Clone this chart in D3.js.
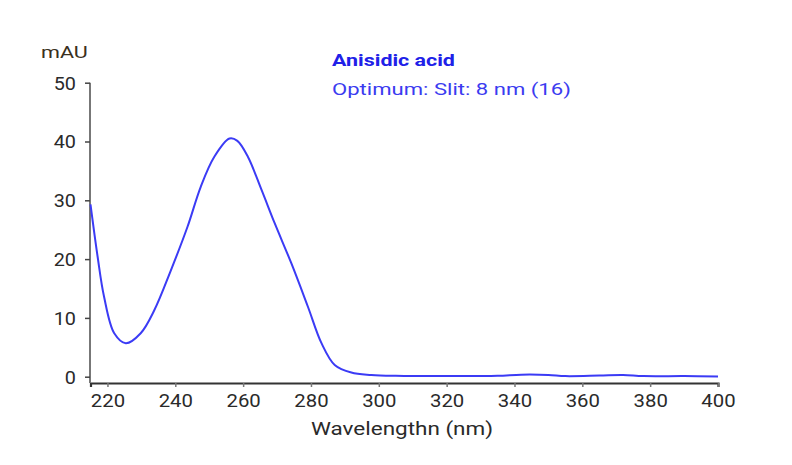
<!DOCTYPE html>
<html>
<head>
<meta charset="utf-8">
<script src="https://cdn.jsdelivr.net/npm/d3@7"></script>
<style>
  body { margin: 0; background: #fff; }
  text { font-family: Roboto, "Liberation Sans", sans-serif; }
</style>
</head>
<body>
<script>
// spectrum
var wavelength = [215, 217.1, 219, 222, 225.4, 229.8, 233.8, 238.7, 243.6, 247.5, 251.5, 256, 258.3, 261.4, 265.4, 269.3, 274.2, 279.1, 283.1, 287, 291.9, 297.8, 305, 320, 335, 342, 350, 355, 365, 372, 378, 390, 400];
var absorbance = [29.3, 20.4, 13.6, 7.4, 5.7, 7.4, 11.3, 18.1, 25.5, 32.3, 37.4, 40.5, 40.1, 37.4, 31.8, 26.1, 19.3, 11.9, 5.7, 2.0, 0.7, 0.3, 0.15, 0.1, 0.15, 0.35, 0.3, 0.1, 0.2, 0.3, 0.1, 0.1, 0.05];
var xTicks = [220, 240, 260, 280, 300, 320, 340, 360, 380, 400];
var yTicks = [0, 10, 20, 30, 40, 50];
var titleLines = ["Anisidic acid", "Optimum: Slit: 8 nm (16)"];

var W = 792, H = 465;
var data = wavelength.map(function (w, i) { return { w: w, a: absorbance[i] }; });

var x = d3.scaleLinear().domain([215, 400]).range([90.5, 718]);
var y = d3.scaleLinear().domain([0, 50]).range([376.7, 82.7]);
var axisY = 383;

var svg = d3.select("body").append("svg")
  .attr("width", W)
  .attr("height", H);

// the source picture is stretched sideways, so text gets a horizontal scale
function label(px, py, sx, str) {
  return svg.append("text")
    .attr("transform", "translate(" + px + "," + py + ") scale(" + sx + ",1)")
    .text(str);
}

// x axis
var xAxis = d3.axisBottom(x).tickValues(xTicks).tickSize(4).tickPadding(7).tickFormat(d3.format("d"));
var gx = svg.append("g")
  .attr("transform", "translate(0," + axisY + ")")
  .call(xAxis);
gx.select(".domain").attr("stroke", "#333").attr("stroke-width", 2.2);
gx.selectAll(".tick line").attr("stroke", "#777").attr("stroke-width", 1.5);
gx.selectAll(".tick text")
  .attr("fill", "#2a2a2a")
  .style("font-size", "18px")
  .attr("transform", "scale(1.13,1)");

// y axis
var yAxis = d3.axisLeft(y).tickValues(yTicks).tickSize(5).tickPadding(9);
var gy = svg.append("g")
  .attr("transform", "translate(90,0)")
  .call(yAxis);
gy.select(".domain").attr("d", "M0," + y(50) + "V" + axisY).attr("stroke", "#777").attr("stroke-width", 2);
gy.selectAll(".tick line").attr("stroke", "#444").attr("stroke-width", 1.5);
gy.selectAll(".tick text")
  .attr("fill", "#2a2a2a")
  .style("font-size", "18px")
  .attr("dy", "0.36em")
  .attr("x", 0)
  .attr("transform", "translate(-14,0) scale(1.1,1)");

// unit + axis titles
label(41, 58, 1.27, "mAU")
  .attr("fill", "#3a3020")
  .style("font-size", "17px");

label(402, 435, 1.25, "Wavelengthn (nm)")
  .attr("text-anchor", "middle")
  .attr("fill", "#2a2a2a")
  .style("font-size", "18px");

// legend / title
label(332, 66, 1.26, titleLines[0])
  .attr("fill", "#2020e8")
  .style("font-size", "17px")
  .style("font-weight", "bold");
label(332, 95, 1.3, titleLines[1])
  .attr("fill", "#3b3bf0")
  .style("font-size", "17px");

// the curve
var line = d3.line()
  .x(function (d) { return x(d.w); })
  .y(function (d) { return y(d.a); })
  .curve(d3.curveCatmullRom.alpha(0.5));

svg.append("path")
  .datum(data)
  .attr("fill", "none")
  .attr("stroke", "#3b3bf5")
  .attr("stroke-width", 2)
  .attr("d", line);
</script>
</body>
</html>
